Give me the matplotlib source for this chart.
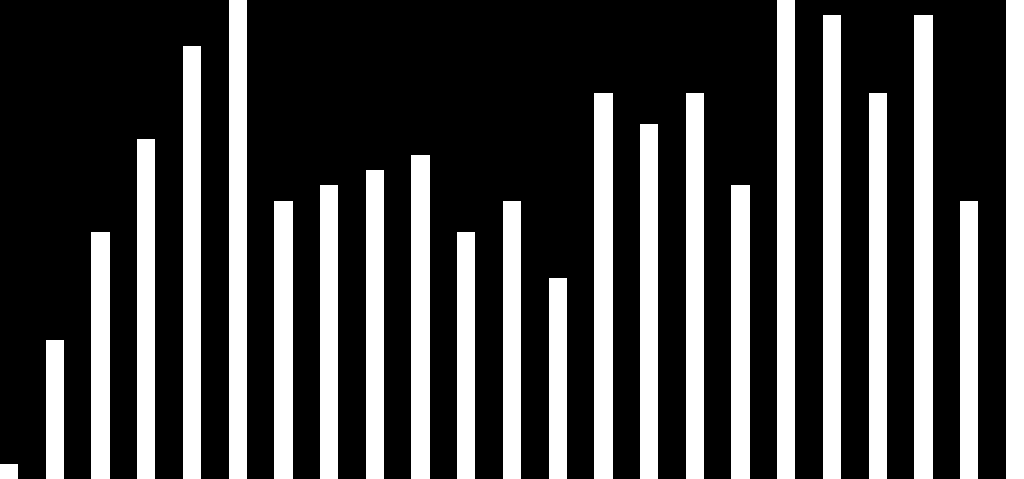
import numpy as np
import matplotlib
matplotlib.use("Agg")
import matplotlib.pyplot as plt

# bar heights (top of the axes = 31)
values = [1, 9, 16, 22, 28, 31, 18, 19, 20, 21, 16, 18, 13,
          25, 23, 25, 19, 31, 30, 25, 30, 18, 31]
y_max = 31

bar_width = 0.40

fig = plt.figure(figsize=(10.24, 4.79), dpi=100, facecolor="black")
ax = fig.add_axes([0, 0, 1, 1])
ax.set_facecolor("black")

x = np.arange(len(values))
ax.bar(x, values, width=bar_width, color="white", edgecolor="none")

ax.set_xlim(-bar_width / 2, len(values) - 1 + bar_width / 2)
ax.set_ylim(0, y_max)
ax.axis("off")

fig.savefig("out.png", dpi=100, facecolor="black")
